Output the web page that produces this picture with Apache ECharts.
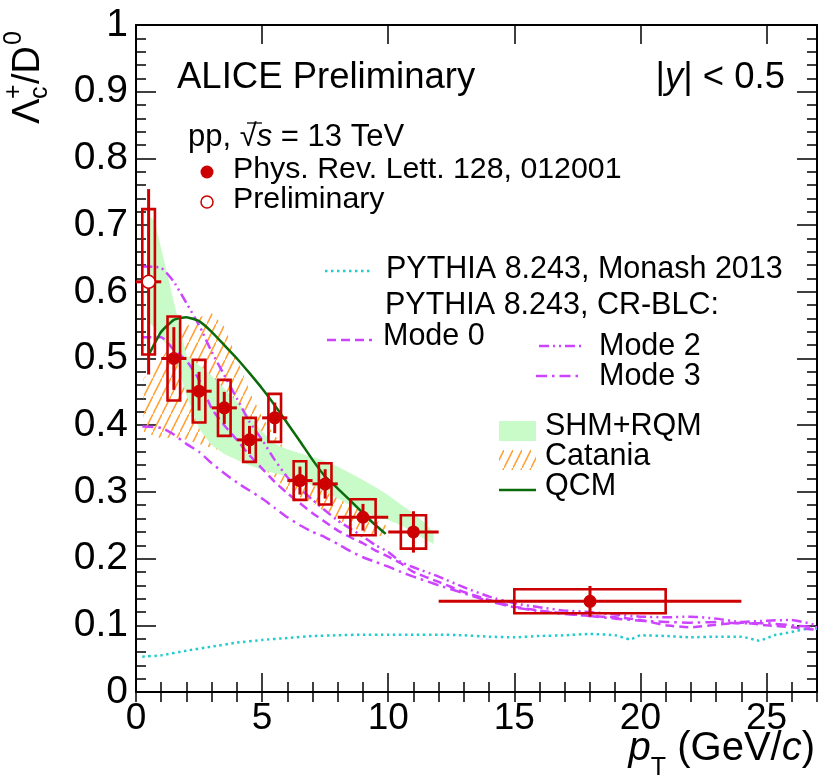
<!DOCTYPE html>
<html><head><meta charset="utf-8">
<script src="https://cdn.jsdelivr.net/npm/echarts/dist/echarts.min.js"></script>
<style>html,body{margin:0;padding:0;background:#fff}#c{width:819px;height:778px}</style>
</head><body><div id="c"></div>
<script>
// ---------- data ----------
// ALICE published points (Phys. Rev. Lett. 128, 012001)
const ptPub      = [1.5, 2.5, 3.5, 4.5, 5.5, 6.5, 7.5, 9, 11, 18];
const ptPubLow   = [1, 2, 3, 4, 5, 6, 7, 8, 10, 12];
const ptPubHigh  = [2, 3, 4, 5, 6, 7, 8, 10, 12, 24];
const ratioPub   = [0.500, 0.451, 0.426, 0.378, 0.411, 0.317, 0.312, 0.262, 0.240, 0.136];
const statPub    = [0.047, 0.029, 0.024, 0.021, 0.023, 0.021, 0.022, 0.020, 0.031, 0.023];
const sysPub     = [0.063, 0.047, 0.042, 0.033, 0.036, 0.029, 0.031, 0.027, 0.025, 0.018];
const boxHalfPub = [0.25, 0.25, 0.25, 0.25, 0.25, 0.25, 0.25, 0.5, 0.5, 3];
// Preliminary point
const ptPre = [0.5], ptPreLow = [0], ptPreHigh = [1];
const ratioPre = [0.615], statPre = [0.139], sysPre = [0.109], boxHalfPre = [0.25];

// SHM+RQM band
const shmX     = [0.5, 0.75, 1, 1.5, 2, 2.5, 3, 3.5, 4, 4.5, 5, 5.5, 6, 6.5, 7, 7.5, 8, 8.5, 9, 9.5, 10, 10.5, 11, 11.5, 11.8];
const shmUpper = [0.715, 0.705, 0.665, 0.585, 0.505, 0.49, 0.474, 0.455, 0.435, 0.413, 0.39, 0.372, 0.364, 0.358, 0.352, 0.346, 0.338, 0.328, 0.318, 0.307, 0.295, 0.281, 0.268, 0.252, 0.238];
const shmLower = [0.555, 0.545, 0.53, 0.51, 0.445, 0.395, 0.37, 0.357, 0.348, 0.34, 0.333, 0.328, 0.323, 0.318, 0.31, 0.3, 0.29, 0.28, 0.27, 0.263, 0.258, 0.25, 0.24, 0.228, 0.222];
// Catania band
const catX     = [0.3, 1, 1.5, 2, 2.5, 3, 3.5, 4, 4.5, 5, 5.5, 6, 6.5, 7, 7.5, 8, 8.5, 9, 9.5, 10];
const catUpper = [0.47, 0.50, 0.525, 0.548, 0.562, 0.568, 0.548, 0.50, 0.452, 0.412, 0.385, 0.36, 0.342, 0.325, 0.31, 0.296, 0.282, 0.27, 0.258, 0.248];
const catLower = [0.39, 0.38, 0.382, 0.378, 0.372, 0.366, 0.36, 0.354, 0.347, 0.336, 0.322, 0.302, 0.292, 0.283, 0.27, 0.256, 0.247, 0.24, 0.235, 0.232];
// QCM
const qcmX = [0.5, 1, 1.5, 2, 2.5, 3, 3.5, 4, 4.5, 5, 5.5, 6, 6.5, 7, 7.5, 8, 8.5, 9, 9.5, 9.9];
const qcmY = [0.505, 0.54, 0.558, 0.562, 0.556, 0.54, 0.52, 0.50, 0.478, 0.455, 0.43, 0.403, 0.376, 0.348, 0.323, 0.305, 0.287, 0.268, 0.25, 0.237];
// PYTHIA Monash
const monX = [0.25, 1, 2, 3, 4, 5, 6, 7, 8, 9, 10, 11, 12, 13, 14, 15, 16, 17, 18, 19, 19.6, 20, 21, 22, 23, 24, 24.7, 25.3, 26, 26.5, 27];
const monY = [0.053, 0.055, 0.062, 0.068, 0.074, 0.078, 0.081, 0.084, 0.085, 0.086, 0.086, 0.086, 0.086, 0.085, 0.083, 0.082, 0.084, 0.085, 0.087, 0.085, 0.079, 0.085, 0.084, 0.082, 0.083, 0.083, 0.077, 0.085, 0.09, 0.094, 0.095];
// PYTHIA CR-BLC modes
const modeX  = [0.25, 1, 1.5, 2, 2.5, 3, 3.5, 4, 4.5, 5, 5.5, 6, 6.5, 7, 7.5, 8, 8.5, 9, 9.5, 10, 10.5, 11, 12, 13, 14, 15, 16, 17, 18, 19, 20, 21, 22, 23, 24, 25, 26, 27];
const mode0Y = [0.532, 0.532, 0.513, 0.497, 0.468, 0.425, 0.400, 0.378, 0.355, 0.335, 0.315, 0.298, 0.283, 0.268, 0.255, 0.242, 0.232, 0.223, 0.212, 0.203, 0.193, 0.180, 0.165, 0.150, 0.138, 0.128, 0.122, 0.118, 0.114, 0.112, 0.108, 0.100, 0.097, 0.101, 0.104, 0.100, 0.097, 0.093];
const mode2Y = [0.638, 0.636, 0.615, 0.583, 0.55, 0.51, 0.475, 0.44, 0.405, 0.378, 0.348, 0.322, 0.305, 0.288, 0.272, 0.257, 0.245, 0.233, 0.22, 0.21, 0.195, 0.187, 0.173, 0.157, 0.143, 0.133, 0.127, 0.122, 0.12, 0.116, 0.113, 0.112, 0.113, 0.11, 0.105, 0.107, 0.108, 0.10];
const mode3Y = [0.398, 0.396, 0.386, 0.372, 0.36, 0.343, 0.328, 0.314, 0.302, 0.29, 0.276, 0.262, 0.25, 0.24, 0.232, 0.222, 0.211, 0.202, 0.195, 0.188, 0.18, 0.173, 0.16, 0.148, 0.136, 0.127, 0.121, 0.117, 0.114, 0.11, 0.107, 0.105, 0.104, 0.105, 0.103, 0.103, 0.10, 0.097];

// ---------- style ----------
const RED = '#cc0000', QCMC = '#0b6b0b', MAG = '#cc44ff', CYAN = '#22cccc', BANDC = '#c9fbc9', ORANGE = '#ffa033';
const FONT = '"Liberation Sans", Arial, Helvetica, sans-serif';

const pc = document.createElement('canvas'); pc.width = 9; pc.height = 18;
(function(){ const g = pc.getContext('2d'); g.strokeStyle = ORANGE; g.lineWidth = 1.5;
  g.beginPath(); g.moveTo(-3, 24); g.lineTo(12, -6); g.stroke(); })();
const hatch = { image: pc, repeat: 'repeat' };

const pairs = (xs, ys) => xs.map((x, i) => [x, ys[i]]);

function bandSeries(xs, up, lo, fill, z) {
  return { type: 'custom', silent: true, z: z, clip: true,
    data: [[xs[0], up[0]]],
    renderItem: function (params, api) {
      const pts = xs.map((x, i) => api.coord([x, up[i]]));
      for (let i = xs.length - 1; i >= 0; i--) pts.push(api.coord([xs[i], lo[i]]));
      return { type: 'polygon', shape: { points: pts }, style: { fill: fill, stroke: null } };
    } };
}
function boxSeries(xs, ys, hw, e, z) {
  return { type: 'custom', silent: true, z: z, clip: true,
    data: xs.map((x, i) => [x, ys[i], hw[i], e[i]]),
    renderItem: function (params, api) {
      const x = api.value(0), y = api.value(1), h = api.value(2), s = api.value(3);
      const p1 = api.coord([x - h, y + s]), p2 = api.coord([x + h, y - s]);
      return { type: 'rect', shape: { x: p1[0], y: p1[1], width: p2[0] - p1[0], height: p2[1] - p1[1] },
        style: { fill: 'none', stroke: RED, lineWidth: 2.6 } };
    } };
}
function errSeries(xs, ys, lo, hi, e, z) {
  return { type: 'custom', silent: true, z: z, clip: true,
    data: xs.map((x, i) => [x, ys[i], lo[i], hi[i], e[i]]),
    renderItem: function (params, api) {
      const x = api.value(0), y = api.value(1);
      const a = api.coord([api.value(2), y]), b = api.coord([api.value(3), y]);
      const c = api.coord([x, y + api.value(4)]), d = api.coord([x, y - api.value(4)]);
      return { type: 'group', children: [
        { type: 'line', shape: { x1: a[0], y1: a[1], x2: b[0], y2: b[1] }, style: { stroke: RED, lineWidth: 3 } },
        { type: 'line', shape: { x1: c[0], y1: c[1], x2: d[0], y2: d[1] }, style: { stroke: RED, lineWidth: 3 } }] };
    } };
}
function lineSeries(xs, ys, color, dash, width) {
  return { type: 'line', data: pairs(xs, ys), showSymbol: false, symbol: 'none', silent: true, z: 5,
    smooth: 0.15, lineStyle: { color: color, type: dash, width: width }, clip: true };
}

function T(x, y, text, size, align, extra) {
  const st = Object.assign({ text: text, fontSize: size, fontFamily: FONT, fill: '#000',
    align: align || 'left', verticalAlign: 'middle', textAlign: align || 'left', textVerticalAlign: 'middle' }, extra || {});
  return { type: 'text', x: x, y: y, z: 100, style: st };
}
function L(x1, y1, x2, y2, color, dash, w) {
  return { type: 'line', z: 100, shape: { x1: x1, y1: y1, x2: x2, y2: y2 }, style: { stroke: color, lineWidth: w, lineDash: dash } };
}

const axBase = { type: 'value', min: 0, max: 27, splitLine: { show: false } };
const tickStyle = { color: '#000', width: 1.5 };
const xAxes = [
  Object.assign({}, axBase, { position: 'bottom', interval: 5,
    axisLine: { show: true, onZero: false, lineStyle: { color: '#000', width: 2 } },
    axisTick: { show: true, inside: true, length: 19, lineStyle: tickStyle },
    axisLabel: { show: true, fontSize: 37, fontFamily: FONT, color: '#000', margin: 8, showMaxLabel: false } }),
  Object.assign({}, axBase, { position: 'bottom', interval: 1,
    axisLine: { show: false }, axisTick: { show: true, inside: true, length: 10, lineStyle: tickStyle },
    axisLabel: { show: false } }),
  Object.assign({}, axBase, { position: 'top', interval: 5,
    axisLine: { show: true, onZero: false, lineStyle: { color: '#000', width: 2 } },
    axisTick: { show: true, inside: true, length: 19, lineStyle: tickStyle }, axisLabel: { show: false } }),
  Object.assign({}, axBase, { position: 'top', interval: 1,
    axisLine: { show: false }, axisTick: { show: true, inside: true, length: 10, lineStyle: tickStyle },
    axisLabel: { show: false } })
];
const yBase = { type: 'value', min: 0, max: 1, interval: 0.1, splitLine: { show: false },
  axisLine: { show: true, onZero: false, lineStyle: { color: '#000', width: 2 } },
  axisTick: { show: true, inside: true, length: 20, lineStyle: tickStyle },
  minorTick: { show: true, splitNumber: 5, length: 10, lineStyle: tickStyle }, minorSplitLine: { show: false } };
const yAxes = [
  Object.assign({}, yBase, { position: 'left',
    axisLabel: { show: true, fontSize: 39, fontFamily: FONT, color: '#000', margin: 8 } }),
  Object.assign({}, yBase, { position: 'right', axisLabel: { show: false } })
];

const series = [
  bandSeries(catX, catUpper, catLower, hatch, 1),
  bandSeries(shmX, shmUpper, shmLower, BANDC, 2),
  lineSeries(monX, monY, CYAN, [2.5, 3.5], 2.5),
  lineSeries(modeX, mode0Y, MAG, [9, 5], 2.5),
  lineSeries(modeX, mode2Y, MAG, [10, 4, 2, 4, 2, 4], 2.5),
  lineSeries(modeX, mode3Y, MAG, [11, 5, 2.5, 5], 2.5),
  lineSeries(qcmX, qcmY, QCMC, 'solid', 2.5),
  boxSeries(ptPub, ratioPub, boxHalfPub, sysPub, 10),
  boxSeries(ptPre, ratioPre, boxHalfPre, sysPre, 10),
  errSeries(ptPub, ratioPub, ptPubLow, ptPubHigh, statPub, 11),
  errSeries(ptPre, ratioPre, ptPreLow, ptPreHigh, statPre, 11),
  { type: 'scatter', data: pairs(ptPub, ratioPub), symbol: 'circle', symbolSize: 13, z: 12, silent: true,
    itemStyle: { color: RED, opacity: 1 } },
  { type: 'scatter', data: pairs(ptPre, ratioPre), symbol: 'circle', symbolSize: 13, z: 12, silent: true,
    itemStyle: { color: '#ffffff', borderColor: RED, borderWidth: 1.5, opacity: 1 } }
];
series.forEach(s => { s.xAxisIndex = 0; s.yAxisIndex = 0; });

const graphics = [
  T(177, 78, 'ALICE Preliminary', 36.5),
  T(785, 78, '|{i|y}| < 0.5', 36.5, 'right', { rich: { i: { fontStyle: 'italic', fontSize: 36.5, fontFamily: FONT } } }),
  T(188, 137, 'pp, √{i|s} = 13 TeV', 31, 'left', { rich: { i: { fontStyle: 'italic', fontSize: 31, fontFamily: FONT } } }),
  L(247, 123, 262, 123, '#000', null, 1.3),
  { type: 'circle', z: 100, shape: { cx: 207, cy: 172, r: 6.5 }, style: { fill: RED } },
  T(233, 170, 'Phys. Rev. Lett. 128, 012001', 30.3),
  { type: 'circle', z: 100, shape: { cx: 207, cy: 202, r: 6 }, style: { fill: '#fff', stroke: RED, lineWidth: 1.5 } },
  T(233, 200, 'Preliminary', 30.3),
  L(325, 271, 373, 271, CYAN, [2.5, 3.5], 2.5),
  T(386, 270, 'PYTHIA 8.243, Monash 2013', 30.5),
  T(385, 306, 'PYTHIA 8.243, CR-BLC:', 30.5),
  L(327, 340, 372, 340, MAG, [9, 5], 2.5),
  T(383, 337, 'Mode 0', 30.5),
  L(539, 346, 585, 346, MAG, [10, 4, 2, 4, 2, 4], 2.5),
  T(599, 347, 'Mode 2', 30.5),
  L(536, 376, 583, 376, MAG, [11, 5, 2.5, 5], 2.5),
  T(599, 377, 'Mode 3', 30.5),
  { type: 'rect', z: 100, shape: { x: 499, y: 421, width: 37, height: 20 }, style: { fill: BANDC } },
  T(545, 427, 'SHM+RQM', 30.5),
  { type: 'rect', z: 100, shape: { x: 499, y: 450, width: 37, height: 20 }, style: { fill: hatch } },
  T(545, 457, 'Catania', 30.5),
  L(499, 490, 536, 490, QCMC, null, 2.5),
  T(545, 487, 'QCM', 30.5),
  // x-axis title
  T(815, 755, '{i|p}{s|T}{n| (GeV/}{i|c}{n|)}', 40, 'right', { rich: {
    i: { fontStyle: 'italic', fontSize: 40, fontFamily: FONT, lineHeight: 52, verticalAlign: 'top' },
    n: { fontSize: 40, fontFamily: FONT, lineHeight: 52, verticalAlign: 'top' },
    s: { fontSize: 25, fontFamily: FONT, lineHeight: 52, verticalAlign: 'bottom' } } }),
  // y-axis title (rotated)
  { type: 'group', x: 29, y: 124, rotation: Math.PI / 2, z: 100, children: [
    T(0, 0, 'Λ', 38), T(25, 11, 'c', 25), T(25, -15, '+', 25), T(40, 0, '/D', 38), T(79, -15, '0', 25)
  ] }
];

const chart = echarts.init(document.getElementById('c'), null, { renderer: 'canvas' });
chart.setOption({
  animation: false,
  backgroundColor: '#fff',
  grid: { left: 136, right: 2, top: 25, bottom: 86, containLabel: false, outerBoundsMode: 'none' },
  xAxis: xAxes, yAxis: yAxes,
  series: series,
  graphic: graphics
});
</script></body></html>
